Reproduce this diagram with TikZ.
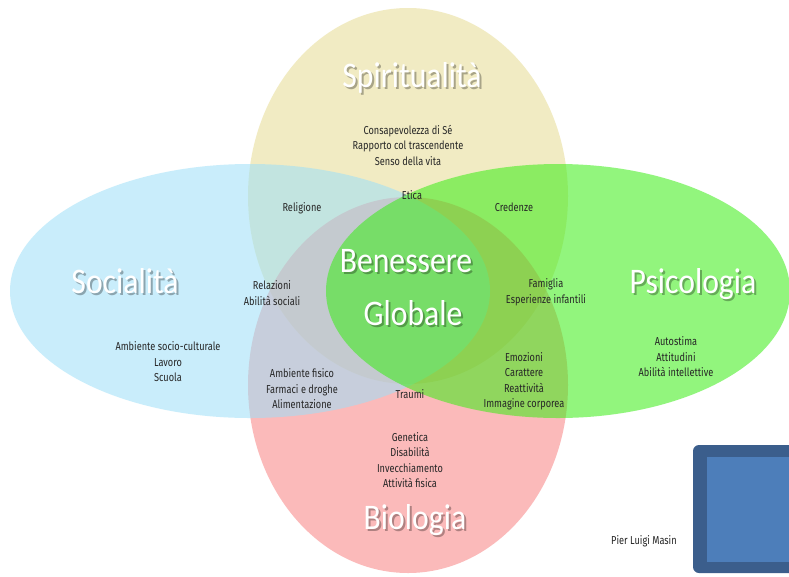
\documentclass[tikz,border=0pt]{standalone}
\usepackage{fontspec}
\setmainfont[FakeStretch=0.8]{Fira Sans}
\newfontfamily\titlefont[FakeStretch=0.88]{Carlito}
\usepackage{tikz}
\usetikzlibrary{calc}

\definecolor{SpiritFill}{RGB}{231,219,146}
\definecolor{BioFill}{RGB}{248,131,131}
\definecolor{SocialFill}{RGB}{157,224,248}
\definecolor{PsiFill}{RGB}{57,237,20}
\definecolor{BoxDark}{RGB}{59,94,140}
\definecolor{BoxLight}{RGB}{77,126,186}

% title with a soft drop shadow
\newcommand{\Title}[3]{%
	\node (#1-sh) at ($(#2)+(2,2)$) [Title, text=black, opacity=0.3] {#3};
	\node (#1) at (#2) [Title] {#3};}

\begin{document}
\begin{tikzpicture}[x=1pt, y=-1pt]
			\tikzstyle{Area}	= [fill opacity=0.55]
			\tikzstyle{Title}	= [anchor=base, inner sep=0pt, text=white, font=\titlefont\fontsize{36}{40}\selectfont]
			\tikzstyle{Label}	= [align=center, inner sep=0pt, text=black!85, font=\fontsize{11.5}{15.5}\selectfont]

			\fill [white] (0,0) rectangle (789,576);
			\useasboundingbox (0,0) rectangle (789,576);
			\clip (0,0) rectangle (789,576);

			% the four ellipses
			\fill [SpiritFill][Area] (408,196) ellipse [x radius=160pt, y radius=188pt];
			\fill [BioFill][Area] (408,385) ellipse [x radius=160pt, y radius=188pt];
			\fill [SocialFill][Area] (250,291) ellipse [x radius=240pt, y radius=127pt];
			\fill [PsiFill][Area] (558,291) ellipse [x radius=232pt, y radius=127pt];

			\Title{spirit}{412,87}{Spiritualità}
			\Title{social}{125,293}{Socialità}
			\Title{psico}{693,293}{Psicologia}
			\Title{bio}{415,529}{Biologia}
			\Title{bene}{406,272}{Benessere}
			\Title{glob}{413,325}{Globale}

			\node (sp) at (408,145) [Label] {Consapevolezza di Sé\\Rapporto col trascendente\\Senso della vita};
			\node (etica) at (412,195) [Label] {Etica};
			\node (relig) at (302,208) [Label] {Religione};
			\node (cred) at (514,207) [Label] {Credenze};
			\node (rel) at (272,293) [Label] {Relazioni\\Abilità sociali};
			\node (fam) at (546,292) [Label] {Famiglia\\Esperienze infantili};
			\node (so) at (168,362) [Label] {Ambiente socio-culturale\\Lavoro\\Scuola};
			\node (ps) at (676,357) [Label] {Autostima\\Attitudini\\Abilità intellettive};
			\node (amb) at (302,389) [Label] {Ambiente fisico\\Farmaci e droghe\\Alimentazione};
			\node (traumi) at (410,394) [Label] {Traumi};
			\node (emo) at (524,381) [Label] {Emozioni\\Carattere\\Reattività\\Immagine corporea};
			\node (bi) at (410,460) [Label] {Genetica\\Disabilità\\Invecchiamento\\Attività fisica};

			\node (author) at (611,541) [Label, anchor=west] {Pier Luigi Masin};

			% slide number box
			\fill [BoxDark, rounded corners=6pt] (693,445) rectangle (830,573);
			\fill [BoxLight] (707,457) rectangle (830,562);
\end{tikzpicture}
\end{document}
